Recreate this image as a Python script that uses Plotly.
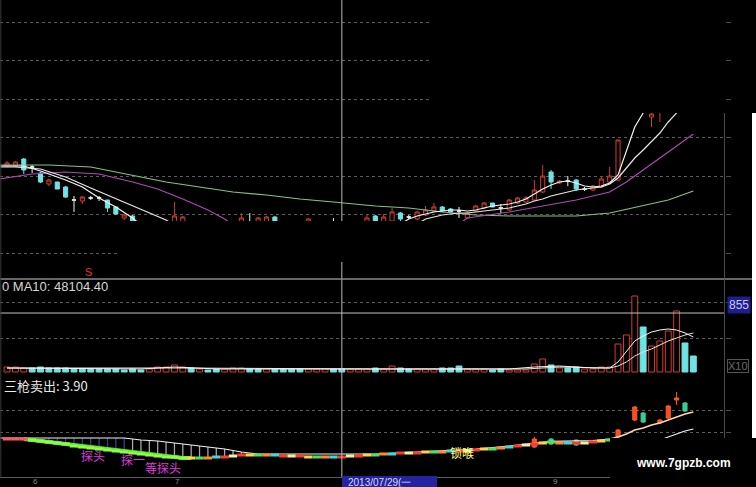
import plotly.graph_objects as go

W, H = 756, 487

# ---------------- data ----------------
N = 83
x_idx = list(range(N))

open_ = [
    8.68, 8.68, 8.82, 8.66, 8.54, 8.32, 8.36, 8.26, 8.00, 7.98,
    8.04, 8.04, 8.00, 7.86, 7.64, 7.68, None, None, None, None,
    7.52, 7.52, None, None, None, None, None, None, 7.52, 7.52,
    7.52, 7.52, 7.66, None, None, None, 7.52, None, None, 7.52,
    None, None, None, 7.52, 7.68, 7.52, 7.58, 7.74, 7.66, 7.62,
    7.70, 7.78, 7.86, 7.82, 7.78, 7.64, 7.78, 7.84, 7.94, 7.84,
    7.80, 7.94, 7.96, 8.00, 8.16, 8.56, 8.34, 8.38, 8.40, 8.22,
    8.20, 8.26, 8.36, 8.40, None, None, None, 9.66, 9.80, None,
    None, None, None]
high = [
    8.78, 8.78, 8.84, 8.70, 8.56, 8.42, 8.36, 8.28, 8.08, 8.08,
    8.08, 8.08, 8.00, 7.86, 7.72, 7.70, None, None, None, None,
    7.96, 7.68, None, None, None, None, None, None, 7.74, 7.74,
    7.66, 7.68, 7.68, None, None, None, 7.64, None, None, 7.64,
    None, None, None, 7.70, 7.70, 7.72, 7.84, 7.76, 7.70, 7.78,
    7.88, 7.94, 7.88, 7.84, 7.86, 7.76, 7.90, 7.96, 7.94, 7.92,
    8.02, 8.06, 8.08, 8.40, 8.70, 8.60, 8.40, 8.48, 8.42, 8.26,
    8.30, 8.46, 8.66, 9.20, None, None, None, 9.84, 10.04, None,
    None, None, None]
low = [
    8.66, 8.66, 8.52, 8.54, 8.34, 8.28, 8.22, 8.04, 7.76, 7.92,
    8.00, 7.98, 7.76, 7.70, 7.60, 7.56, None, None, None, None,
    7.48, 7.48, None, None, None, None, None, None, 7.48, 7.48,
    7.48, 7.48, 7.48, None, None, None, 7.48, None, None, 7.48,
    None, None, None, 7.48, 7.48, 7.48, 7.52, 7.56, 7.62, 7.60,
    7.68, 7.76, 7.76, 7.74, 7.64, 7.62, 7.76, 7.82, 7.86, 7.74,
    7.78, 7.92, 7.94, 7.98, 8.14, 8.22, 8.32, 8.28, 8.18, 8.18,
    8.18, 8.24, 8.34, 8.38, None, None, None, 9.46, 9.56, None,
    None, None, None]
close = [
    8.74, 8.76, 8.60, 8.66, 8.36, 8.40, 8.22, 8.06, 8.00, 8.06,
    8.04, 8.04, 7.84, 7.72, 7.70, 7.56, None, None, None, None,
    7.68, 7.66, None, None, None, None, None, None, 7.64, 7.52,
    7.64, 7.66, 7.52, None, None, None, 7.62, None, None, 7.52,
    None, None, None, 7.64, 7.52, 7.66, 7.76, 7.62, 7.66, 7.76,
    7.80, 7.86, 7.78, 7.76, 7.78, 7.74, 7.88, 7.94, 7.86, 7.84,
    8.00, 8.04, 8.04, 8.20, 8.48, 8.36, 8.38, 8.38, 8.22, 8.22,
    8.28, 8.42, 8.48, 9.20, None, None, None, 9.72, 10.00, None,
    None, None, None]

# moving averages (index, price)
ma5_a_i = [-1, 2, 4, 7, 9, 11, 13, 15, 16]
ma5_a_v = [8.68, 8.68, 8.58, 8.40, 8.26, 8.04, 7.86, 7.64, 7.50]
ma5_b_i = list(range(47, 78))
ma5_b_v = [7.52, 7.62, 7.68, 7.72, 7.76, 7.78, 7.80, 7.80, 7.78, 7.80,
           7.84, 7.88, 7.90, 7.92, 7.96, 8.02, 8.12, 8.22, 8.30, 8.36,
           8.38, 8.34, 8.28, 8.26, 8.28, 8.34, 8.50, 8.96, 9.46, 9.74, 10.00]
ma10_a_i = [-1, 1, 4, 7, 10, 12, 14, 17, 19, 20]
ma10_a_v = [8.66, 8.66, 8.62, 8.46, 8.24, 8.10, 7.96, 7.74, 7.60, 7.50]
ma10_b_i = list(range(49, 82))
ma10_b_v = [7.52, 7.62, 7.66, 7.70, 7.72, 7.74, 7.74, 7.76, 7.78, 7.80,
            7.82, 7.84, 7.88, 7.92, 7.98, 8.02, 8.08, 8.12, 8.16, 8.20,
            8.22, 8.24, 8.26, 8.32, 8.44, 8.64, 8.84, 9.00, 9.16, 9.34,
            9.56, 9.74, 10.00]
ma20_a_i = [-1, 3, 7, 11, 15, 18, 21, 24, 26, 27]
ma20_a_v = [8.42, 8.52, 8.56, 8.52, 8.36, 8.22, 8.02, 7.80, 7.62, 7.50]
ma20_b_i = [54, 55, 60, 64, 68, 72, 74, 76, 78, 80, 82]
ma20_b_v = [7.52, 7.64, 7.76, 7.88, 8.00, 8.16, 8.36, 8.60, 8.84, 9.08, 9.32]
ma60_i = [-1, 5, 10, 15, 19, 23, 27, 31, 35, 39, 44, 48, 52, 56, 60, 64, 68, 72, 76, 79, 82]
ma60_v = [8.70, 8.70, 8.66, 8.50, 8.36, 8.26, 8.16, 8.10, 8.02, 7.96, 7.88,
          7.84, 7.76, 7.70, 7.68, 7.68, 7.68, 7.74, 7.88, 8.00, 8.18]

# volume
volume = [
    72, 72, 58, 58, 72, 58, 58, 58, 44, 44,
    44, 44, 44, 44, 29, 44, 29, 44, 72, 72,
    102, 72, 58, 44, 29, 44, 44, 58, 58, 44,
    44, 44, 44, 44, 44, 44, 44, 44, 44, 44,
    44, 44, 44, 44, 58, 44, 87, 58, 44, 44,
    44, 44, 58, 58, 87, 44, 44, 44, 29, 44,
    29, 29, 29, 116, 189, 102, 58, 58, 72, 44,
    44, 72, 72, 406, 537, 1102, 653, 377, 450, 595,
    885, 421, 232]
vol_up = [
    1, 1, 1, 0, 0, 0, 0, 0, 0, 0,
    0, 0, 0, 0, 0, 0, 0, 1, 1, 1,
    1, 1, 0, 1, 0, 0, 1, 1, 1, 0,
    0, 1, 0, 0, 0, 0, 1, 1, 1, 0,
    0, 1, 1, 1, 0, 1, 1, 0, 0, 1,
    1, 1, 0, 0, 0, 1, 1, 1, 0, 0,
    1, 1, 1, 1, 1, 0, 1, 0, 0, 1,
    1, 1, 1, 1, 1, 1, 0, 1, 1, 1,
    1, 0, 0]
vma5_i = [0, 16, 20, 25, 44, 60, 63, 66, 70, 72, 73, 74, 75, 76, 77, 78, 79, 80, 81, 82]
vma5_v = [58, 44, 72, 44, 44, 44, 72, 87, 58, 58, 145, 290, 450, 522, 580, 609, 624, 609, 566, 508]
vma10_i = [0, 20, 44, 62, 66, 70, 72, 73, 74, 75, 76, 77, 78, 79, 80, 81, 82]
vma10_v = [58, 58, 44, 44, 72, 58, 58, 87, 145, 232, 290, 334, 392, 450, 493, 536, 566]

# indicator "三枪卖出"
band = [
    3.990, 3.990, 3.990, 3.985, 3.980, 3.975, 3.970, 3.965, 3.955, 3.950,
    3.945, 3.940, 3.935, 3.930, 3.925, 3.920, 3.915, 3.910, 3.905, 3.900,
    3.900, 3.895, 3.895, 3.895, 3.895, 3.900, 3.900, 3.905, 3.910, 3.910,
    3.910, 3.910, 3.910, 3.905, 3.905, 3.905, 3.900, 3.900, 3.900, 3.900,
    3.900, 3.905, 3.905, 3.910, 3.910, 3.915, 3.915, 3.920, 3.920, 3.920,
    3.925, 3.925, 3.925, 3.930, 3.930, 3.930, 3.935, 3.940, 3.940, 3.945,
    3.950, 3.955, 3.960, 3.965, 3.970, 3.975, 3.970, 3.970, 3.970, 3.970,
    3.975, 3.980, 3.985]
upper_i = [-1, 14, 16, 18, 20, 22, 24, 26, 28, 30, 44, 50, 56, 60, 65, 70, 72]
upper_v = [3.995, 3.995, 3.985, 3.980, 3.970, 3.960, 3.950, 3.940, 3.925, 3.915,
           3.915, 3.928, 3.940, 3.955, 3.978, 3.982, 3.990]
rise_i = [72, 73, 74, 75, 76, 77, 78, 79, 80, 81, 82]
rise_v = [3.990, 4.000, 4.015, 4.035, 4.045, 4.060, 4.070, 4.085, 4.100, 4.115, 4.125]
lower_i = [78, 79, 80, 81, 82]
lower_v = [3.985, 4.000, 4.015, 4.030, 4.040]
hatch_i = list(range(5, 29))
hatch_top = [3.995] * 10 + [3.990, 3.985, 3.983, 3.980, 3.975, 3.970, 3.965,
                            3.960, 3.955, 3.950, 3.945, 3.940, 3.933, 3.925]
sig_i = [63, 65, 68, 73, 75, 76, 78, 79, 80, 81]
sig_o = [3.950, 3.990, 3.985, 4.000, 4.085, 4.120, 4.070, 4.095, 4.185, 4.170]
sig_h = [4.000, 3.995, 3.985, 4.040, 4.155, 4.125, 4.090, 4.160, 4.225, 4.175]
sig_l = [3.945, 3.960, 3.955, 3.995, 4.080, 4.070, 4.065, 4.090, 4.160, 4.125]
sig_c = [3.990, 3.965, 3.960, 4.035, 4.150, 4.075, 4.085, 4.155, 4.195, 4.130]

price_grid = [11.56 - 0.77 * k for k in range(7)]
vol_grid = [493, 1015]
ind_grid = [4.025, 4.135]
cross_idx = 40
cross_vol = 855

# ---------------- style ----------------
RED = "#d23c32"
CYAN = "#6fe3e3"
BG = "black"
LATIN = "Liberation Sans, Arial, sans-serif"
CJK = "Noto Sans CJK SC, sans-serif"


def px_x(p):
    return p / W


def px_y(p):
    return 1 - p / H


fig = go.Figure()

# price candles
ui = [i for i in x_idx if open_[i] is not None and open_[i] != close[i]]
di = [i for i in x_idx if open_[i] is not None and open_[i] == close[i]]
fig.add_trace(go.Candlestick(
    x=ui, open=[open_[i] for i in ui], high=[high[i] for i in ui],
    low=[low[i] for i in ui], close=[close[i] for i in ui],
    increasing=dict(line=dict(color=RED, width=1), fillcolor=BG),
    decreasing=dict(line=dict(color=CYAN, width=1), fillcolor=CYAN),
    xaxis="x", yaxis="y", hoverinfo="skip"))
fig.add_trace(go.Candlestick(
    x=di, open=[open_[i] for i in di], high=[high[i] for i in di],
    low=[low[i] for i in di], close=[close[i] for i in di],
    increasing=dict(line=dict(color="#f0f0f0", width=1), fillcolor="#f0f0f0"),
    decreasing=dict(line=dict(color="#f0f0f0", width=1), fillcolor="#f0f0f0"),
    xaxis="x", yaxis="y", hoverinfo="skip"))

for xs, ys, col in [(ma60_i, ma60_v, "#86c286"),
                    (ma20_a_i, ma20_a_v, "#b048b0"), (ma20_b_i, ma20_b_v, "#b048b0"),
                    (ma10_a_i, ma10_a_v, "#e6e6e6"), (ma10_b_i, ma10_b_v, "#e6e6e6"),
                    (ma5_a_i, ma5_a_v, "#f4f4f4"), (ma5_b_i, ma5_b_v, "#f4f4f4")]:
    fig.add_trace(go.Scatter(x=xs, y=ys, mode="lines", line=dict(color=col, width=1.2),
                             xaxis="x", yaxis="y", hoverinfo="skip"))

# volume
fig.add_trace(go.Bar(
    x=x_idx, y=volume, width=0.7,
    marker=dict(color=[BG if u else CYAN for u in vol_up],
                line=dict(color=[RED if u else CYAN for u in vol_up], width=1)),
    xaxis="x", yaxis="y2", hoverinfo="skip"))
fig.add_trace(go.Scatter(x=vma10_i, y=vma10_v, mode="lines", line=dict(color="#e8e0d8", width=1),
                         xaxis="x", yaxis="y2", hoverinfo="skip"))
fig.add_trace(go.Scatter(x=vma5_i, y=vma5_v, mode="lines", line=dict(color="#f4f4f4", width=1),
                         xaxis="x", yaxis="y2", hoverinfo="skip"))

# indicator
fig.add_trace(go.Bar(
    x=hatch_i, y=[t - band[i] for t, i in zip(hatch_top, hatch_i)],
    base=[band[i] for i in hatch_i], width=0.15,
    marker=dict(color=["rgba(60,80,190,0.8)" if i < 15 else "rgba(225,225,240,0.75)" for i in hatch_i],
                line=dict(width=0)),
    xaxis="x", yaxis="y3", hoverinfo="skip"))
fig.add_trace(go.Scatter(x=upper_i, y=upper_v, mode="lines", line=dict(color="#f0f0f0", width=1.2),
                         xaxis="x", yaxis="y3", hoverinfo="skip"))
fig.add_trace(go.Scatter(x=list(range(2, 23)), y=band[2:23], mode="lines",
                         line=dict(color="#5ee23a", width=4),
                         xaxis="x", yaxis="y3", hoverinfo="skip"))
palette = ["#ff3a2a", "#ffd23a", "#4ee060", "#ff8c2a", "#40d8d8", "#ff3a2a", "#f0f0a0"]
band_cols = []
for i in range(len(band)):
    if i < 3:
        band_cols.append("#ff5a5a")
    elif i < 22:
        band_cols.append("#8cff40")
    else:
        band_cols.append(palette[i % len(palette)])
fig.add_trace(go.Scatter(
    x=list(range(len(band))), y=band, mode="markers",
    marker=dict(symbol="line-ew", size=6, line=dict(color=band_cols, width=3)),
    xaxis="x", yaxis="y3", hoverinfo="skip"))
fig.add_trace(go.Scatter(x=rise_i, y=rise_v, mode="lines", line=dict(color="#ffd6b0", width=1.5),
                         xaxis="x", yaxis="y3", hoverinfo="skip"))
fig.add_trace(go.Scatter(x=lower_i, y=lower_v, mode="lines", line=dict(color="#f0f0f0", width=1.2),
                         xaxis="x", yaxis="y3", hoverinfo="skip"))
fig.add_trace(go.Candlestick(
    x=sig_i, open=sig_o, high=sig_h, low=sig_l, close=sig_c,
    increasing=dict(line=dict(color="#ff5a2a", width=1), fillcolor="#ff4a1e"),
    decreasing=dict(line=dict(color="#3acc96", width=1), fillcolor="#3acc96"),
    xaxis="x", yaxis="y3", hoverinfo="skip"))

# ---------------- layout ----------------
axis_common = dict(showticklabels=False, zeroline=False, showline=False,
                   gridcolor="#5c5c5c", griddash="dot", gridwidth=1,
                   ticks="outside", ticklen=5, tickcolor="#4a4a4a",
                   side="right", anchor="x", fixedrange=True)

fig.update_layout(
    width=W, height=H, margin=dict(l=0, r=0, t=0, b=0),
    paper_bgcolor=BG, plot_bgcolor=BG, showlegend=False, hovermode=False,
    barmode="overlay",
    xaxis=dict(domain=[0, 725 / W], range=[-0.84, 85.78], visible=False,
               rangeslider=dict(visible=False), fixedrange=True),
    yaxis=dict(domain=[px_y(279), 1], range=[6.42, 12.0], tickvals=price_grid, **axis_common),
    yaxis2=dict(domain=[px_y(376), px_y(279)], range=[-58, 1348.5], tickvals=vol_grid, **axis_common),
    yaxis3=dict(domain=[px_y(478), px_y(376)], range=[3.795, 4.305], tickvals=ind_grid, **axis_common),
)

shapes = []
# masked (blacked-out) regions of the screenshot
shapes.append(dict(type="rect", xref="paper", yref="paper", x0=px_x(430), x1=px_x(725),
                   y0=px_y(113), y1=1, fillcolor=BG, line=dict(width=0), layer="above"))
shapes.append(dict(type="rect", xref="paper", yref="paper", x0=px_x(117), x1=px_x(725),
                   y0=px_y(262), y1=px_y(221), fillcolor=BG, line=dict(width=0), layer="above"))
# crosshair
line_c = dict(color="#b8b8b8", width=1)
shapes.append(dict(type="line", xref="x", yref="paper", x0=cross_idx, x1=cross_idx,
                   y0=px_y(221), y1=1, line=line_c, layer="above"))
shapes.append(dict(type="line", xref="x", yref="paper", x0=cross_idx, x1=cross_idx,
                   y0=px_y(478), y1=px_y(262), line=line_c, layer="above"))
shapes.append(dict(type="line", xref="paper", yref="y2", x0=0, x1=px_x(724), y0=cross_vol, y1=cross_vol,
                   line=dict(color="#c4c4c4", width=1), layer="above"))
# frame lines
shapes.append(dict(type="line", xref="paper", yref="paper", x0=0, x1=px_x(752),
                   y0=px_y(279), y1=px_y(279), line=dict(color="#8a8a8a", width=1.5), layer="above"))
shapes.append(dict(type="line", xref="paper", yref="paper", x0=0, x1=px_x(724),
                   y0=px_y(477.5), y1=px_y(477.5), line=dict(color="#5a5a5a", width=1), layer="above"))
shapes.append(dict(type="line", xref="paper", yref="paper", x0=px_x(724.5), x1=px_x(724.5),
                   y0=0, y1=px_y(113), line=dict(color="#4a4a4a", width=1), layer="above"))
shapes.append(dict(type="line", xref="paper", yref="paper", x0=px_x(0.8), x1=px_x(0.8),
                   y0=px_y(478), y1=1, line=dict(color="#3a3a3a", width=1), layer="above"))
# white strip on right, watermark box
shapes.append(dict(type="rect", xref="paper", yref="paper", x0=px_x(752), x1=1,
                   y0=px_y(438), y1=px_y(113), fillcolor="white", line=dict(width=0), layer="above"))
shapes.append(dict(type="rect", xref="paper", yref="paper", x0=px_x(610), x1=1,
                   y0=0, y1=px_y(438), fillcolor=BG, line=dict(width=0), layer="above"))
# date box
shapes.append(dict(type="rect", xref="paper", yref="paper", x0=px_x(342), x1=px_x(437),
                   y0=0, y1=px_y(476), fillcolor="#2424a0", line=dict(width=0), layer="above"))
fig.update_layout(shapes=shapes)

ann = []
ann.append(dict(text="0 MA10: 48104.40", xref="paper", yref="paper", x=px_x(0), y=px_y(286),
                xanchor="left", yanchor="middle", showarrow=False,
                font=dict(family=LATIN, size=13, color="#d6d6d6")))
ann.append(dict(text="三枪卖出: 3.90", xref="paper", yref="paper", x=px_x(2), y=px_y(385),
                xanchor="left", yanchor="middle", showarrow=False,
                font=dict(family=CJK, size=13, color="#e8e8e8")))
ann.append(dict(text="S", xref="x", yref="y", x=9.7, y=6.56, showarrow=False,
                font=dict(family=LATIN, size=11, color="#e03a2a")))
for t, xi, yi in [("探头", 10.3, 3.91), ("探一", 15.1, 3.888), ("等探头", 18.6, 3.85)]:
    ann.append(dict(text=t, xref="x", yref="y3", x=xi, y=yi, showarrow=False,
                    font=dict(family=CJK, size=12, color="#e03ce0")))
ann.append(dict(text="锁喉", xref="x", yref="y3", x=54.4, y=3.925, showarrow=False,
                font=dict(family=CJK, size=12, color="#ffff70")))
ann.append(dict(text="855", xref="paper", yref="paper", x=px_x(738.5), y=px_y(304.5),
                xanchor="center", yanchor="middle", showarrow=False, bgcolor="#1e1e8e",
                borderpad=1, font=dict(family=LATIN, size=12, color="#c8c8ff")))
ann.append(dict(text="X10", xref="paper", yref="paper", x=px_x(727), y=px_y(366),
                xanchor="left", yanchor="middle", showarrow=False, bordercolor="#555555",
                borderwidth=1, borderpad=0, font=dict(family=LATIN, size=11, color="#6a6a6a")))
ann.append(dict(text="www.7gpzb.com", xref="paper", yref="paper", x=px_x(683), y=px_y(463),
                xanchor="center", yanchor="middle", showarrow=False,
                font=dict(family=LATIN, size=12, color="white", weight="bold")))
ann.append(dict(text="2013/07/29(一", xref="paper", yref="paper", x=px_x(346), y=px_y(482),
                xanchor="left", yanchor="middle", showarrow=False,
                font=dict(family=LATIN, size=10, color="#d8d8ff")))
for t, xp in [("6", 35), ("7", 177), ("9", 555)]:
    ann.append(dict(text=t, xref="paper", yref="paper", x=px_x(xp), y=px_y(481.5),
                    xanchor="center", yanchor="middle", showarrow=False,
                    font=dict(family=LATIN, size=8, color="#8a8a8a")))
fig.update_layout(annotations=ann)

fig.write_html(
    "out.html",
    config={"displayModeBar": False, "staticPlot": True},
    post_script="document.body.style.margin='0';document.body.style.overflow='hidden';",
)
